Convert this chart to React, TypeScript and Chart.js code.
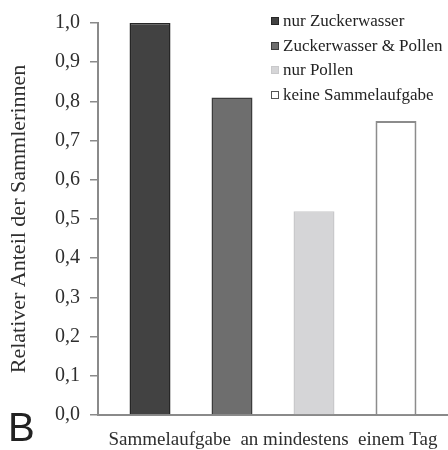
import React, { useEffect, useRef } from "react";
import { Chart, registerables } from "chart.js";

Chart.register(...registerables);

const categories = [""];
const seriesLabels = [
  "nur Zuckerwasser",
  "Zuckerwasser & Pollen",
  "nur Pollen",
  "keine Sammelaufgabe",
];
const seriesValues = [1.0, 0.81, 0.52, 0.75];
const fillColors = ["#424242", "#6e6e6e", "#d5d5d7", "#ffffff"];
const borderColors = ["#262626", "#3c3c3c", "#c9c9cb", "#8c8c8c"];
const yTicks = [0, 0.1, 0.2, 0.3, 0.4, 0.5, 0.6, 0.7, 0.8, 0.9, 1.0];
const xTitle = "Sammelaufgabe  an mindestens  einem Tag";
const yTitle = "Relativer Anteil der Sammlerinnen";
const panelLabel = "B";

const SERIF = "'Liberation Serif', 'Times New Roman', serif";

export default function App() {
  const canvasRef = useRef<HTMLCanvasElement | null>(null);

  useEffect(() => {
    if (!canvasRef.current) return;
    const chart = new Chart(canvasRef.current, {
      type: "bar",
      data: {
        labels: categories,
        datasets: seriesLabels.map((label, i) => ({
          label,
          data: [seriesValues[i]],
          backgroundColor: fillColors[i],
          borderColor: borderColors[i],
          borderWidth: i === 3 ? 2 : 1.5,
          categoryPercentage: 0.937,
          barPercentage: 0.5,
        })),
      },
      options: {
        responsive: false,
        animation: false,
        layout: { padding: { top: 23, right: -3, bottom: 0, left: 0 } },
        plugins: {
          legend: { display: false },
          tooltip: { enabled: false },
        },
        scales: {
          x: {
            ticks: { display: false },
            grid: { display: false },
            border: { display: true, color: "#8a8a8a", width: 2 },
            title: {
              display: true,
              text: xTitle,
              color: "#2e2e2e",
              font: { family: SERIF, size: 19, lineHeight: 1 },
              padding: { top: 0, bottom: 0 },
            },
            afterFit: (scale: any) => {
              scale.height = 35;
            },
          },
          y: {
            min: 0,
            max: 1,
            afterBuildTicks: (scale: any) => {
              scale.ticks = yTicks.map((v) => ({ value: v }));
            },
            ticks: {
              padding: 10,
              color: "#2e2e2e",
              font: { family: SERIF, size: 20 },
              callback: (v: any) => Number(v).toFixed(1).replace(".", ","),
            },
            grid: {
              display: true,
              drawOnChartArea: false,
              drawTicks: true,
              tickLength: 8,
              color: "#8a8a8a",
              lineWidth: 1.5,
            },
            border: { display: true, color: "#8a8a8a", width: 2 },
            title: {
              display: true,
              text: yTitle,
              color: "#2e2e2e",
              font: { family: SERIF, size: 22, lineHeight: 1.2 },
              padding: { top: 6, bottom: 0 },
            },
            afterFit: (scale: any) => {
              scale.width = 98;
            },
          },
        },
      },
    });
    return () => chart.destroy();
  }, []);

  return (
    <div style={{ position: "absolute", left: 0, top: 0, width: 448, height: 450, background: "#fff", overflow: "hidden" }}>
      <canvas ref={canvasRef} width={448} height={450} style={{ display: "block" }} />
      <div style={{ position: "absolute", left: 271, top: 9, fontFamily: SERIF, fontSize: 17, color: "#222" }}>
        {seriesLabels.map((label, i) => (
          <div key={label} style={{ display: "flex", alignItems: "center", height: 24.5, whiteSpace: "nowrap" }}>
            <span
              style={{
                display: "inline-block",
                width: 8,
                height: 8,
                boxSizing: "border-box",
                background: fillColors[i],
                border: `1px solid ${i === 3 ? "#555" : borderColors[i]}`,
                marginRight: 4,
              }}
            />
            <span>{label}</span>
          </div>
        ))}
      </div>
      <div
        style={{
          position: "absolute",
          left: 8,
          top: 407,
          fontFamily: "'Liberation Sans', Arial, sans-serif",
          fontSize: 40,
          lineHeight: 1,
          color: "#222",
        }}
      >
        {panelLabel}
      </div>
    </div>
  );
}
